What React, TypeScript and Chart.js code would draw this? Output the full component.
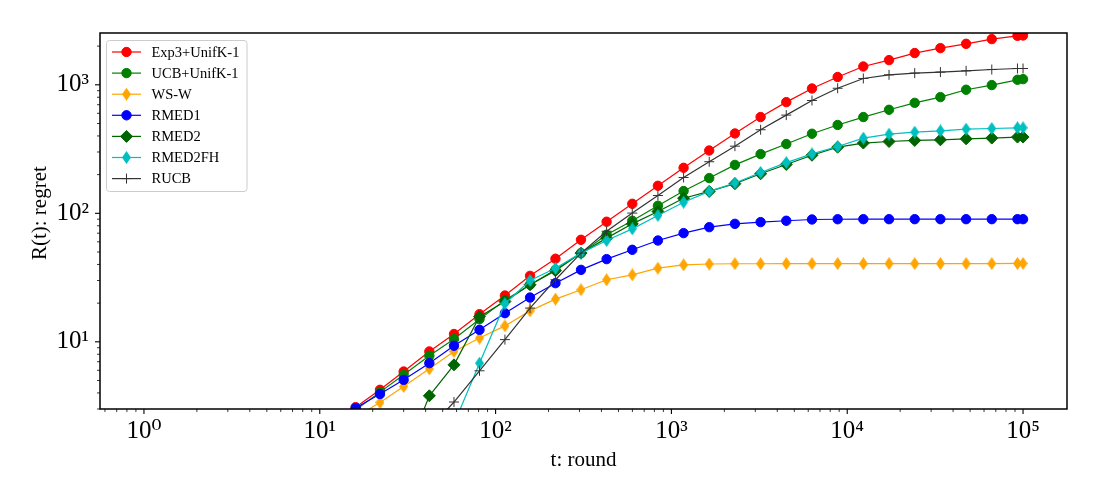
import { useEffect, useRef } from "react"
import { Chart, registerables } from "chart.js"

Chart.register(...registerables)

// rounds at which the curves were sampled
const T = [9, 12, 16, 22, 30, 42, 58, 81, 113, 157, 219, 306, 428, 599, 838, 1173, 1641, 2297, 3216, 4501, 6301, 8821, 12348, 17287, 24202, 33883, 47435, 66409, 92973, 100000]

const EXP3 = [null, 2.3, 3.1, 4.23, 5.87, 8.41, 11.5, 16.4, 22.9, 32.6, 44.3, 62.2, 86, 118.6, 163.7, 226, 308, 418, 561, 733, 936, 1150, 1388, 1557, 1766, 1930, 2084, 2268, 2405, 2420]
const UCB = [null, 2.2, 2.95, 4.06, 5.54, 7.78, 10.5, 15.0, 21.1, 27.8, 36.3, 49.0, 68.1, 87.5, 114.4, 149, 188, 238, 289, 346, 416, 487, 561, 639, 724, 802, 915, 995, 1094, 1107]
const WSW = [null, null, 2.6, 3.37, 4.49, 6.16, 8.41, 10.7, 13.3, 17.4, 21.5, 25.4, 30.4, 33.2, 37.4, 39.7, 40.3, 40.5, 40.5, 40.6, 40.6, 40.6, 40.6, 40.6, 40.6, 40.6, 40.6, 40.6, 40.7, 40.7]
const RMED1 = [null, 2.25, 3.05, 3.92, 5.06, 6.82, 9.31, 12.4, 16.7, 22.1, 28.6, 36.3, 44, 52, 61.4, 70.1, 78, 82.8, 85.4, 87.5, 89.5, 89.9, 90, 90, 90, 90, 90, 90, 90, 90]
const RMED2 = [null, null, null, null, 1.2, 3.8, 6.62, 15.7, 20.6, 27.8, 35.8, 49, 64.1, 82.8, 103.3, 131, 148, 170, 203, 240, 283, 327, 352, 362, 369, 373, 380, 385, 392, 392]
const RMED2FH = [null, null, null, null, null, null, 2.3, 6.82, 19.8, 30.0, 37.4, 49, 61.4, 75.7, 96.2, 122, 148, 172, 208, 248, 290, 331, 385, 413, 428, 438, 452, 457, 463, 463]
const RUCB = [null, null, null, null, null, 2.1, 3.4, 5.95, 10.4, 18.3, 30.4, 49, 72.5, 100.4, 137.6, 190, 252, 333, 447, 581, 755, 940, 1120, 1196, 1233, 1256, 1285, 1315, 1339, 1339]

const X_DECADES = [0.1, 1, 10, 100, 1000, 10000, 100000]
const X_LABELS = ["", "10⁰", "10¹", "10²", "10³", "10⁴", "10⁵"]
const Y_DECADES = [1, 10, 100, 1000]
const Y_LABELS = ["", "10¹", "10²", "10³"]
const MULTS = [1, 2, 3, 4, 5, 6, 7, 8, 9]

const X_MIN = Math.pow(10, -0.25)
const X_MAX = Math.pow(10, 5.25)
const Y_MIN = 3
const Y_MAX = 2530

const FONT = "'Liberation Serif', 'DejaVu Serif', serif"

type Kind = "circle" | "thin" | "diamond" | "plus"

function thinDiamond(color: string, w: number, h: number) {
  const c = document.createElement("canvas")
  c.width = w
  c.height = h
  const g = c.getContext("2d")!
  g.fillStyle = color
  g.beginPath()
  g.moveTo(w / 2, 0)
  g.lineTo(w, h / 2)
  g.lineTo(w / 2, h)
  g.lineTo(0, h / 2)
  g.closePath()
  g.fill()
  return c
}

function buildTicks(decades: number[], min: number, max: number) {
  const out: number[] = []
  decades.forEach((d) => MULTS.forEach((m) => {
    const v = m * d
    if (v >= min * 0.999 && v <= max) out.push(v)
  }))
  return out
}

function isDecade(v: number) {
  const l = Math.log10(v)
  return Math.abs(l - Math.round(l)) < 1e-9
}

function labelFor(v: number, decades: number[], labels: string[]) {
  const i = decades.findIndex((d) => Math.abs(d - v) / d < 1e-9)
  return i >= 0 ? labels[i] : ""
}

export default function App() {
  const chartRef = useRef<HTMLCanvasElement>(null)
  const chartInstance = useRef<Chart | null>(null)

  useEffect(() => {
    if (!chartRef.current) return
    if (chartInstance.current) chartInstance.current.destroy()
    const ctx = chartRef.current.getContext("2d")
    if (!ctx) return

    const orangeD = thinDiamond("#ffa500", 9, 13)
    const cyanD = thinDiamond("#00bfbf", 9, 13)

    const series: { label: string; values: (number | null)[]; color: string; kind: Kind; style: any; radius: number }[] = [
      { label: "Exp3+UnifK-1", values: EXP3, color: "#ff0000", kind: "circle", style: "circle", radius: 4.7 },
      { label: "UCB+UnifK-1", values: UCB, color: "#008000", kind: "circle", style: "circle", radius: 4.7 },
      { label: "WS-W", values: WSW, color: "#ffa500", kind: "thin", style: orangeD, radius: 5 },
      { label: "RMED1", values: RMED1, color: "#0000ff", kind: "circle", style: "circle", radius: 4.7 },
      { label: "RMED2", values: RMED2, color: "#006400", kind: "diamond", style: "rectRot", radius: 6 },
      { label: "RMED2FH", values: RMED2FH, color: "#00bfbf", kind: "thin", style: cyanD, radius: 5 },
      { label: "RUCB", values: RUCB, color: "#333333", kind: "plus", style: "cross", radius: 5 },
    ]

    const xTicks = buildTicks(X_DECADES, X_MIN, X_MAX)
    const yTicks = buildTicks(Y_DECADES, Y_MIN, Y_MAX)

    const drawMarker = (c: CanvasRenderingContext2D, s: typeof series[number], x: number, y: number) => {
      c.save()
      c.fillStyle = s.color
      c.strokeStyle = s.color
      c.lineWidth = 1
      if (s.kind === "circle") {
        c.beginPath()
        c.arc(x, y, s.radius, 0, Math.PI * 2)
        c.fill()
        c.stroke()
      } else if (s.kind === "diamond") {
        c.beginPath()
        c.moveTo(x - s.radius, y)
        c.lineTo(x, y - s.radius)
        c.lineTo(x + s.radius, y)
        c.lineTo(x, y + s.radius)
        c.closePath()
        c.fill()
        c.stroke()
      } else if (s.kind === "plus") {
        c.beginPath()
        c.moveTo(x - s.radius, y)
        c.lineTo(x + s.radius, y)
        c.moveTo(x, y - s.radius)
        c.lineTo(x, y + s.radius)
        c.stroke()
      } else {
        const img = s.style as HTMLCanvasElement
        c.drawImage(img, x - img.width / 2, y - img.height / 2)
      }
      c.restore()
    }

    const decorations = {
      id: "decorations",
      afterDraw(chart: Chart) {
        const c = chart.ctx
        const a = chart.chartArea
        const xs = chart.scales.x
        const ys = chart.scales.y
        c.save()
        c.strokeStyle = "#000"
        xTicks.forEach((v) => {
          const px = xs.getPixelForValue(v)
          const major = isDecade(v)
          c.lineWidth = major ? 1.1 : 0.8
          c.beginPath()
          c.moveTo(px, a.bottom)
          c.lineTo(px, a.bottom + (major ? 5 : 3))
          c.stroke()
        })
        yTicks.forEach((v) => {
          const py = ys.getPixelForValue(v)
          const major = isDecade(v)
          c.lineWidth = major ? 1.1 : 0.8
          c.beginPath()
          c.moveTo(a.left, py)
          c.lineTo(a.left - (major ? 5 : 3), py)
          c.stroke()
        })
        c.lineWidth = 1.5
        c.strokeRect(a.left, a.top, a.right - a.left, a.bottom - a.top)

        // legend box, upper left
        const bx = a.left + 6.5
        const by = a.top + 7.5
        c.beginPath()
        c.roundRect(bx, by, 140.5, 151, 3)
        c.fillStyle = "rgba(255,255,255,0.8)"
        c.fill()
        c.lineWidth = 1
        c.strokeStyle = "#cccccc"
        c.stroke()
        c.font = `14.5px ${FONT}`
        c.textBaseline = "middle"
        series.forEach((s, i) => {
          const ry = by + 11.5 + i * 21.1
          c.strokeStyle = s.color
          c.lineWidth = 1.2
          c.beginPath()
          c.moveTo(bx + 5.5, ry)
          c.lineTo(bx + 34.5, ry)
          c.stroke()
          drawMarker(c, s, bx + 20, ry)
          c.fillStyle = "#000"
          c.fillText(s.label, bx + 45, ry + 1)
        })
        c.restore()
      },
    }

    chartInstance.current = new Chart(ctx, {
      type: "line",
      data: {
        datasets: series.map((s, i) => ({
          label: s.label,
          data: T.map((t, j) => ({ x: t, y: s.values[j] })).filter((p) => p.y !== null) as any,
          borderColor: s.color,
          backgroundColor: s.color,
          borderWidth: 1.2,
          pointStyle: s.style,
          pointRadius: s.radius,
          pointBackgroundColor: s.color,
          pointBorderColor: s.color,
          pointBorderWidth: 1,
          tension: 0,
          fill: false,
          clip: 0,
          order: series.length - i,
        })),
      },
      options: {
        responsive: false,
        animation: false,
        events: [],
        layout: { padding: { left: 0, top: 33, right: 33, bottom: 0 } },
        plugins: {
          legend: { display: false },
          tooltip: { enabled: false },
        },
        scales: {
          x: {
            type: "logarithmic",
            min: X_MIN,
            max: X_MAX,
            afterBuildTicks: (scale: any) => {
              scale.ticks = xTicks.map((v) => ({ value: v, major: isDecade(v) }))
            },
            afterFit: (scale: any) => {
              scale.height = 91
            },
            grid: { display: false, drawTicks: true, tickLength: 5 },
            border: { display: false },
            ticks: {
              autoSkip: false,
              maxRotation: 0,
              padding: 2,
              color: "#000",
              font: { family: FONT, size: 25 },
              callback: (value: any) => labelFor(Number(value), X_DECADES, X_LABELS),
            },
            title: {
              display: true,
              text: "t: round",
              color: "#000",
              font: { family: FONT, size: 21 },
              padding: { top: 0, bottom: 27.4 },
            },
          },
          y: {
            type: "logarithmic",
            min: Y_MIN,
            max: Y_MAX,
            afterBuildTicks: (scale: any) => {
              scale.ticks = yTicks.map((v) => ({ value: v, major: isDecade(v) }))
            },
            afterFit: (scale: any) => {
              scale.width = 100
            },
            grid: { display: false, drawTicks: true, tickLength: 5 },
            border: { display: false },
            ticks: {
              autoSkip: false,
              padding: 6,
              color: "#000",
              font: { family: FONT, size: 25 },
              callback: (value: any) => labelFor(Number(value), Y_DECADES, Y_LABELS),
            },
            title: {
              display: true,
              // leading spaces nudge the rotated label up, as in the original
              text: "   R(t): regret",
              color: "#000",
              font: { family: FONT, size: 21 },
              padding: { top: 27.4, bottom: 0 },
            },
          },
        },
      },
      plugins: [decorations],
    })

    return () => {
      if (chartInstance.current) {
        chartInstance.current.destroy()
        chartInstance.current = null
      }
    }
  }, [])

  return (
    <div style={{ position: "absolute", left: 0, top: 0, width: 1100, height: 500, background: "#fff" }}>
      <canvas ref={chartRef} width={1100} height={500} />
    </div>
  )
}
